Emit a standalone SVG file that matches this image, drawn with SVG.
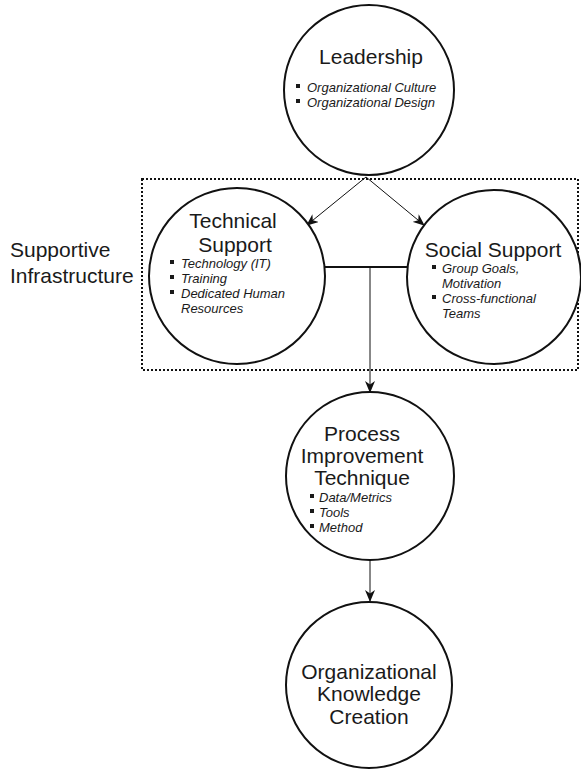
<svg xmlns="http://www.w3.org/2000/svg" width="581" height="770" viewBox="0 0 581 770">
<defs>
<style>
.node{fill:#fff;stroke:#111;stroke-width:2}
.t{font-family:"Liberation Sans",Arial,sans-serif;font-size:21px;fill:#1a1a1a;text-anchor:middle}
.tl{font-family:"Liberation Sans",Arial,sans-serif;font-size:21px;fill:#1a1a1a}
.b{font-family:"Liberation Sans",Arial,sans-serif;font-size:13px;font-style:italic;fill:#1a1a1a}
.sq{fill:#1a1a1a}
.ln{stroke:#111;stroke-width:1;fill:none}
.thick{stroke:#111;stroke-width:2;fill:none}
.dot{stroke:#111;stroke-width:2;fill:none;stroke-dasharray:2 2}
</style>
<marker id="ah" viewBox="0 0 12 10" refX="11" refY="5" markerWidth="12" markerHeight="10" markerUnits="userSpaceOnUse" orient="auto">
<path d="M0,0 L12,5 L0,10 L3.5,5 Z" fill="#111"/>
</marker>
</defs>
<rect width="581" height="770" fill="#fff"/>

<g id="supportive-infrastructure">
<rect class="dot" x="142" y="179" width="436" height="191"/>
<text class="tl" x="10" y="257">Supportive</text>
<text class="tl" x="10" y="283">Infrastructure</text>
</g>

<g id="connectors">
<line class="ln" x1="366" y1="177" x2="307" y2="225" marker-end="url(#ah)"/>
<line class="ln" x1="366" y1="177" x2="424" y2="225" marker-end="url(#ah)"/>
<line class="thick" x1="325" y1="267" x2="408" y2="267"/>
<line class="ln" x1="370" y1="267" x2="370" y2="392" marker-end="url(#ah)"/>
<line class="ln" x1="370" y1="560" x2="370" y2="601" marker-end="url(#ah)"/>
</g>

<g id="leadership">
<circle class="node" cx="369" cy="90" r="85"/>
<text class="t" x="371" y="64">Leadership</text>
<rect class="sq" x="296" y="84" width="4" height="4"/>
<text class="b" x="307" y="92">Organizational Culture</text>
<rect class="sq" x="296" y="99" width="4" height="4"/>
<text class="b" x="307" y="107">Organizational Design</text>
</g>

<g id="technical-support">
<circle class="node" cx="237" cy="276" r="88"/>
<text class="t" x="233" y="228">Technical</text>
<text class="t" x="235" y="252">Support</text>
<rect class="sq" x="170" y="260" width="4" height="4"/>
<text class="b" x="181" y="268">Technology (IT)</text>
<rect class="sq" x="170" y="275" width="4" height="4"/>
<text class="b" x="181" y="283">Training</text>
<rect class="sq" x="170" y="290" width="4" height="4"/>
<text class="b" x="181" y="298">Dedicated Human</text>
<text class="b" x="181" y="313">Resources</text>
</g>

<g id="social-support">
<circle class="node" cx="494" cy="277" r="87"/>
<text class="t" x="493" y="257">Social Support</text>
<rect class="sq" x="432" y="265" width="4" height="4"/>
<text class="b" x="442" y="273">Group Goals,</text>
<text class="b" x="442" y="288">Motivation</text>
<rect class="sq" x="432" y="295" width="4" height="4"/>
<text class="b" x="442" y="303">Cross-functional</text>
<text class="b" x="442" y="318">Teams</text>
</g>

<g id="process-improvement">
<circle class="node" cx="370" cy="476" r="84"/>
<text class="t" x="362" y="441">Process</text>
<text class="t" x="362" y="463">Improvement</text>
<text class="t" x="362" y="485">Technique</text>
<rect class="sq" x="310" y="494" width="4" height="4"/>
<text class="b" x="319" y="502">Data/Metrics</text>
<rect class="sq" x="310" y="509" width="4" height="4"/>
<text class="b" x="319" y="517">Tools</text>
<rect class="sq" x="310" y="524" width="4" height="4"/>
<text class="b" x="319" y="532">Method</text>
</g>

<g id="organizational-knowledge-creation">
<circle class="node" cx="369" cy="685" r="83"/>
<text class="t" x="369" y="679">Organizational</text>
<text class="t" x="369" y="701">Knowledge</text>
<text class="t" x="369" y="724">Creation</text>
</g>
</svg>
